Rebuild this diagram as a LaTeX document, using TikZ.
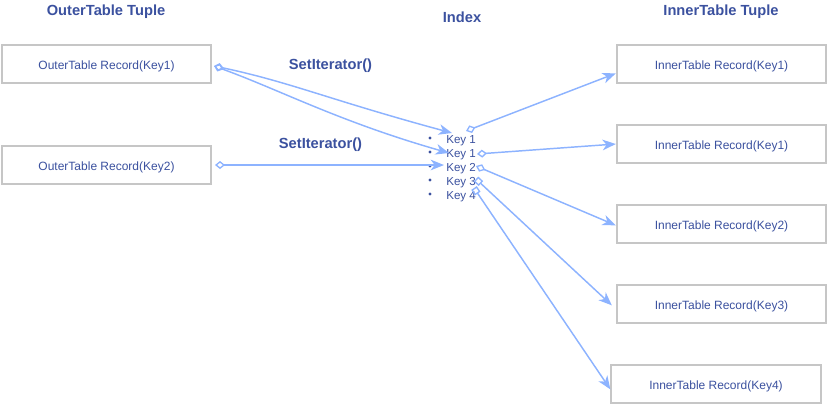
\documentclass[tikz,border=0pt]{standalone}
\usepackage{fontspec}
\setmainfont{Liberation Sans}
\usetikzlibrary{arrows.meta}
\definecolor{txtblue}{HTML}{3B519F}
\definecolor{lnblue}{HTML}{8DB3FF}
\definecolor{boxgray}{HTML}{C6C6C6}
\tikzset{
  recbox/.style={draw=boxgray, line width=1.5pt, fill=white, minimum width=157pt, minimum height=28.5pt, inner sep=0pt, text height=9pt, text depth=1pt, font=\fontsize{9}{10}\selectfont, text=txtblue},
  ttl/.style={font=\bfseries\fontsize{11}{12}\selectfont, text=txtblue},
  keytxt/.style={anchor=west, inner sep=0pt, text height=9pt, text depth=1pt, font=\fontsize{8.7}{10}\selectfont, text=txtblue},
  conn/.style={draw=lnblue, line width=1.1pt},
  dstart/.style={conn, {Diamond[open,length=7.5pt,width=6pt,line width=1pt]}-{Stealth[length=10pt,width=8pt,inset=3pt]}},
  sstart/.style={conn, {Square[open,length=5pt,width=5pt,line width=1pt]}-{Stealth[length=10pt,width=8pt,inset=3pt]}},
}
\begin{document}
\begin{tikzpicture}[x=0.75pt,y=-0.75pt]
\useasboundingbox (0,0) rectangle (828,405);
% titles
\node[ttl] (t1) at (106,12) {OuterTable Tuple};
\node[ttl] (t2) at (462,17) {Index};
\node[ttl] (t3) at (721,12) {InnerTable Tuple};
% outer boxes
\node[recbox] (o1) at (106.5,64) {OuterTable Record(Key1)};
\node[recbox] (o2) at (106.5,165) {OuterTable Record(Key2)};
% inner boxes
\node[recbox] (i1) at (721.5,64) {InnerTable Record(Key1)};
\node[recbox] (i2) at (721.5,144) {InnerTable Record(Key1)};
\node[recbox] (i3) at (721.5,224) {InnerTable Record(Key2)};
\node[recbox] (i4) at (721.5,304) {InnerTable Record(Key3)};
\node[recbox] (i5) at (716,384) {InnerTable Record(Key4)};
% labels
\node[ttl] (l1) at (330.5,66) {SetIterator()};
\node[ttl] (l2) at (320.5,145) {SetIterator()};
% index keys
\node[keytxt] (k1) at (446,138) {Key 1};
\node[keytxt] (k2) at (446,152) {Key 1};
\node[keytxt] (k3) at (446,166) {Key 2};
\node[keytxt] (k4) at (446,180) {Key 3};
\node[keytxt] (k5) at (446,194) {Key 4};
\foreach \k in {k1,k2,k3,k4,k5}
  \fill[txtblue] ([xshift=-12pt]\k.west) circle (1.3pt);
% connector coordinates
\coordinate (s1) at (214,66);
\coordinate (s2) at (215,165);
\coordinate (e1) at (452,133);
\coordinate (e2) at (449,153);
\coordinate (e3) at (444,165);
\coordinate (p1) at (466,131);
\coordinate (p2) at (477,154);
\coordinate (p3) at (476,166);
\coordinate (p4) at (476,179);
\coordinate (p5) at (474,188);
% connectors from outer to index
\draw[dstart] (s1) .. controls (290,82) and (330,100) .. (e1);
\draw[dstart] (s1) .. controls (280,90) and (340,122) .. (e2);
\draw[dstart] (s2) -- (e3);
% connectors from index to inner
\draw[dstart] (p1) -- ([yshift=-7pt]i1.west);
\draw[dstart] (p2) -- (i2.west);
\draw[dstart] (p3) -- ([yshift=-1pt]i3.west);
\draw[sstart] (p4) -- ([xshift=-3pt,yshift=-1pt]i4.west);
\draw[sstart] (p5) -- ([yshift=-4pt]i5.west);
\end{tikzpicture}
\end{document}
